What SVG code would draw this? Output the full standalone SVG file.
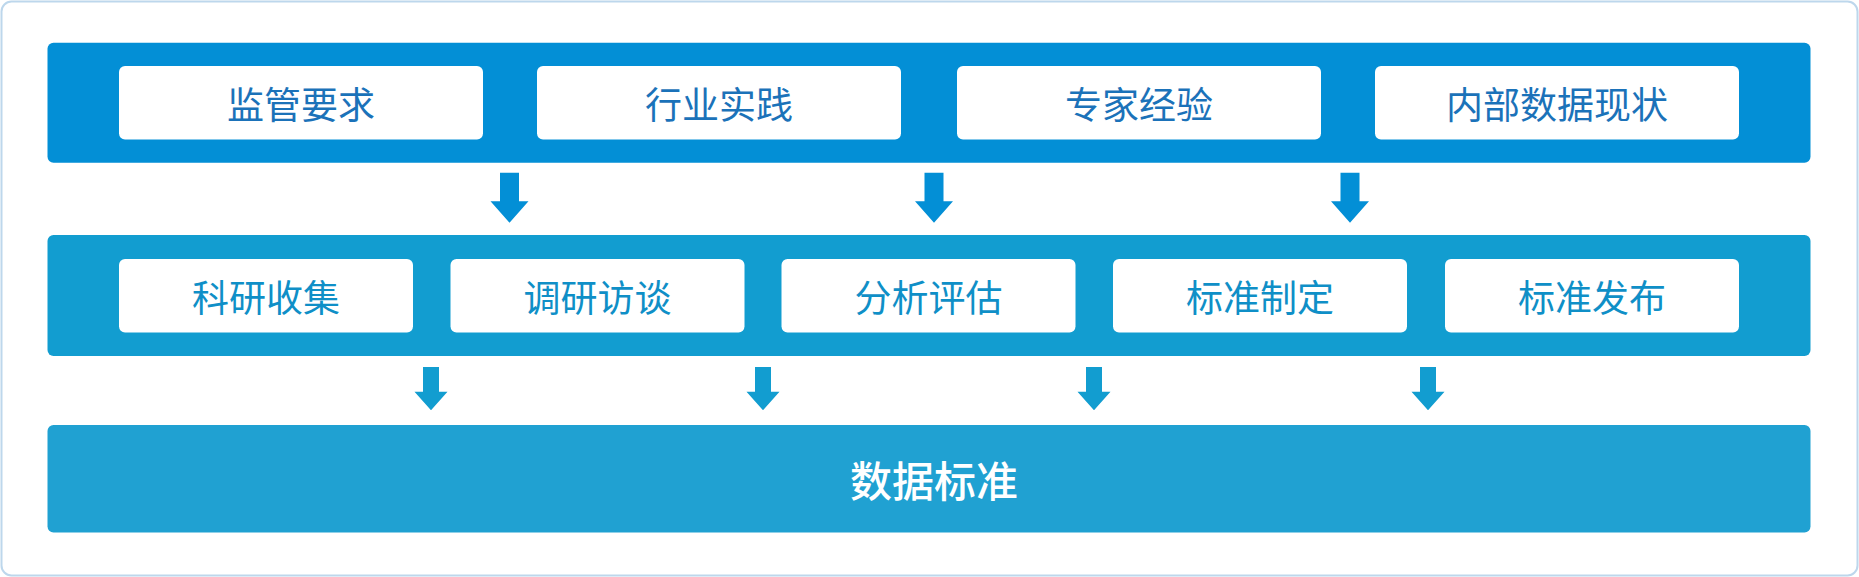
<svg xmlns="http://www.w3.org/2000/svg" width="1859" height="577" viewBox="0 0 1859 577">
<style>
.frame{fill:#ffffff;stroke:#bdd7ec;stroke-width:2}
.band1{fill:#038fd6}
.band2{fill:#129dd0}
.band3{fill:#20a1d2}
.node{fill:#ffffff}
.t1{font-family:"Noto Sans CJK SC","Noto Sans",sans-serif;font-size:37px;fill:#1b72b9;text-anchor:middle;dominant-baseline:central}
.t2{font-family:"Noto Sans CJK SC","Noto Sans",sans-serif;font-size:37px;fill:#0f8fc7;text-anchor:middle;dominant-baseline:central}
.t3{font-family:"Noto Sans CJK SC","Noto Sans",sans-serif;font-size:42px;font-weight:500;fill:#ffffff;text-anchor:middle;dominant-baseline:central}
.a1{fill:#038fd6}
.a2{fill:#129dd0}
</style>
<rect class="frame" x="1.5" y="1.5" width="1856" height="574" rx="10"/>
<g id="layer-sources">
<rect class="band1" x="47.5" y="42.7" width="1763" height="120" rx="6"/>
</g>
<g id="node-jgyq"><rect class="node" x="119" y="66" width="364" height="73.5" rx="6"/><text class="t1" x="301" y="103">监管要求</text></g>
<g id="node-hysj"><rect class="node" x="537" y="66" width="364" height="73.5" rx="6"/><text class="t1" x="719" y="103">行业实践</text></g>
<g id="node-zjjy"><rect class="node" x="957" y="66" width="364" height="73.5" rx="6"/><text class="t1" x="1139" y="103">专家经验</text></g>
<g id="node-nbsj"><rect class="node" x="1375" y="66" width="364" height="73.5" rx="6"/><text class="t1" x="1557" y="103">内部数据现状</text></g>
<g id="layer-process">
<rect class="band2" x="47.5" y="235" width="1763" height="121" rx="6"/>
</g>
<g id="node-kysj"><rect class="node" x="119" y="259" width="294" height="73.5" rx="6"/><text class="t2" x="266" y="296">科研收集</text></g>
<g id="node-dyft"><rect class="node" x="450.5" y="259" width="294" height="73.5" rx="6"/><text class="t2" x="597.5" y="296">调研访谈</text></g>
<g id="node-fxpg"><rect class="node" x="781.5" y="259" width="294" height="73.5" rx="6"/><text class="t2" x="928.5" y="296">分析评估</text></g>
<g id="node-bzzd"><rect class="node" x="1113" y="259" width="294" height="73.5" rx="6"/><text class="t2" x="1260" y="296">标准制定</text></g>
<g id="node-bzfb"><rect class="node" x="1445" y="259" width="294" height="73.5" rx="6"/><text class="t2" x="1592" y="296">标准发布</text></g>
<g id="node-sjbz">
<rect class="band3" x="47.5" y="425" width="1763" height="107.5" rx="6"/>
<text class="t3" x="934" y="478">数据标准</text>
</g>
<g id="connectors">
<defs>
<path id="arr1" d="M-9.5,0 H9.5 V28.5 H19 L0,50 L-19,28.5 H-9.5 Z"/>
<path id="arr2" d="M-8,0 H8 V24.7 H16.5 L0,43.3 L-16.5,24.7 H-8 Z"/>
</defs>
<use href="#arr1" class="a1" x="509.5" y="172.7"/>
<use href="#arr1" class="a1" x="934" y="172.7"/>
<use href="#arr1" class="a1" x="1350" y="172.7"/>
<use href="#arr2" class="a2" x="431" y="367"/>
<use href="#arr2" class="a2" x="763" y="367"/>
<use href="#arr2" class="a2" x="1094" y="367"/>
<use href="#arr2" class="a2" x="1428" y="367"/>
</g>
</svg>
